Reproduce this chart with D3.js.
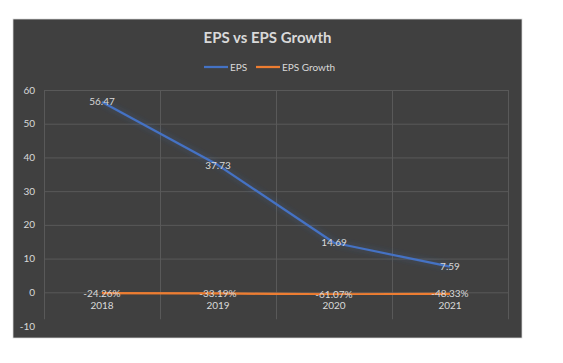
<!DOCTYPE html>
<html>
<head>
<meta charset="utf-8">
<script src="https://cdn.jsdelivr.net/npm/d3@7"></script>
<style>
  body { margin: 0; background: #fff; }
  text { font-family: Lato, "Open Sans", sans-serif; }
</style>
</head>
<body>
<script>
const years = ['2018', '2019', '2020', '2021'];
const eps = [56.47, 37.73, 14.69, 7.59];
const epsGrowth = [-0.2426, -0.3319, -0.6107, -0.4833];
const yTicks = [-10, 0, 10, 20, 30, 40, 50, 60];

const W = 563, H = 363;
const chart = {x: 13, y: 19, w: 509, h: 319};
const margin = {top: 90, left: 44, right: 55, bottom: 37};

const svg = d3.select("body")
  .append("svg")
  .attr("width", W)
  .attr("height", H);

// glow filters
const defs = svg.append("defs");
[["glowBlue", "#4472c4"], ["glowOrange", "#ed7d31"]].forEach(([id, c]) => {
  const f = defs.append("filter").attr("id", id)
    .attr("x", "-20%").attr("y", "-50%").attr("width", "140%").attr("height", "200%");
  f.append("feGaussianBlur").attr("in", "SourceGraphic").attr("stdDeviation", 3).attr("result", "b");
  f.append("feComponentTransfer").attr("in", "b").attr("result", "b2")
    .append("feFuncA").attr("type", "linear").attr("slope", 0.45);
  const m = f.append("feMerge");
  m.append("feMergeNode").attr("in", "b2");
  m.append("feMergeNode").attr("in", "SourceGraphic");
});

// chart background
svg.append("rect")
  .attr("x", chart.x).attr("y", chart.y)
  .attr("width", chart.w).attr("height", chart.h)
  .attr("fill", "#404040")
  .attr("stroke", "#d9d9d9")
  .attr("stroke-width", 0.75);

const x = d3.scaleBand()
  .domain(years)
  .range([margin.left, W - margin.right]);

const y = d3.scaleLinear()
  .domain([-10, 60])
  .range([326, margin.top]);

// horizontal gridlines
svg.append("g")
  .selectAll("line")
  .data(yTicks.filter(d => d >= 0))
  .join("line")
  .attr("x1", x.range()[0]).attr("x2", x.range()[1])
  .attr("y1", d => y(d) + 0.5).attr("y2", d => y(d) + 0.5)
  .attr("stroke", "#595959")
  .attr("stroke-width", 1);

// vertical gridlines
const xs = years.map(d => x(d)).concat([x.range()[1]]);
svg.append("g")
  .selectAll("line")
  .data(xs)
  .join("line")
  .attr("x1", d => d + 0.5).attr("x2", d => d + 0.5)
  .attr("y1", y(60)).attr("y2", y(-8))
  .attr("stroke", "#595959")
  .attr("stroke-width", 1);

// y axis labels
svg.append("g")
  .selectAll("text")
  .data(yTicks)
  .join("text")
  .attr("x", 35)
  .attr("y", d => y(d))
  .attr("dy", "0.35em")
  .attr("text-anchor", "end")
  .attr("font-size", 10)
  .attr("fill", "#d9d9d9")
  .text(d => d);

// x axis labels
svg.append("g")
  .selectAll("text")
  .data(years)
  .join("text")
  .attr("x", d => x(d) + x.bandwidth() / 2)
  .attr("y", y(0) + 13)
  .attr("dy", "0.35em")
  .attr("text-anchor", "middle")
  .attr("font-size", 10)
  .attr("fill", "#d9d9d9")
  .text(d => d);

const line = d3.line()
  .x((d, i) => x(years[i]) + x.bandwidth() / 2)
  .y(d => y(d));

svg.append("path")
  .datum(eps)
  .attr("fill", "none")
  .attr("stroke", "#4472c4")
  .attr("stroke-width", 2.25)
  .attr("stroke-linejoin", "round")
  .attr("filter", "url(#glowBlue)")
  .attr("d", line);

svg.append("path")
  .datum(epsGrowth)
  .attr("fill", "none")
  .attr("stroke", "#ed7d31")
  .attr("stroke-width", 2.25)
  .attr("stroke-linejoin", "round")
  .attr("filter", "url(#glowOrange)")
  .attr("d", line);

// data labels
svg.append("g")
  .selectAll("text")
  .data(eps)
  .join("text")
  .attr("x", (d, i) => x(years[i]) + x.bandwidth() / 2)
  .attr("y", d => y(d))
  .attr("dy", "0.35em")
  .attr("text-anchor", "middle")
  .attr("font-size", 10)
  .attr("fill", "#d9d9d9")
  .text(d => d.toFixed(2));

svg.append("g")
  .selectAll("text")
  .data(epsGrowth)
  .join("text")
  .attr("x", (d, i) => x(years[i]) + x.bandwidth() / 2)
  .attr("y", d => y(d))
  .attr("dy", "0.35em")
  .attr("text-anchor", "middle")
  .attr("font-size", 10)
  .attr("fill", "#d9d9d9")
  .text(d => (d * 100).toFixed(2) + "%");

// title
svg.append("text")
  .attr("x", chart.x + chart.w / 2)
  .attr("y", 43)
  .attr("text-anchor", "middle")
  .attr("font-size", 15)
  .attr("font-weight", "bold")
  .attr("fill", "#d9d9d9")
  .text("EPS vs EPS Growth");

// legend
const legend = [
  {name: "EPS", color: "#4472c4", x: 204},
  {name: "EPS Growth", color: "#ed7d31", x: 256}
];
const lg = svg.append("g").selectAll("g").data(legend).join("g");
lg.append("line")
  .attr("x1", d => d.x).attr("x2", d => d.x + 24)
  .attr("y1", 67).attr("y2", 67)
  .attr("stroke", d => d.color)
  .attr("stroke-width", 2.25);
lg.append("text")
  .attr("x", d => d.x + 26)
  .attr("y", 67)
  .attr("dy", "0.35em")
  .attr("font-size", 10)
  .attr("fill", "#d9d9d9")
  .text(d => d.name);
</script>
</body>
</html>
